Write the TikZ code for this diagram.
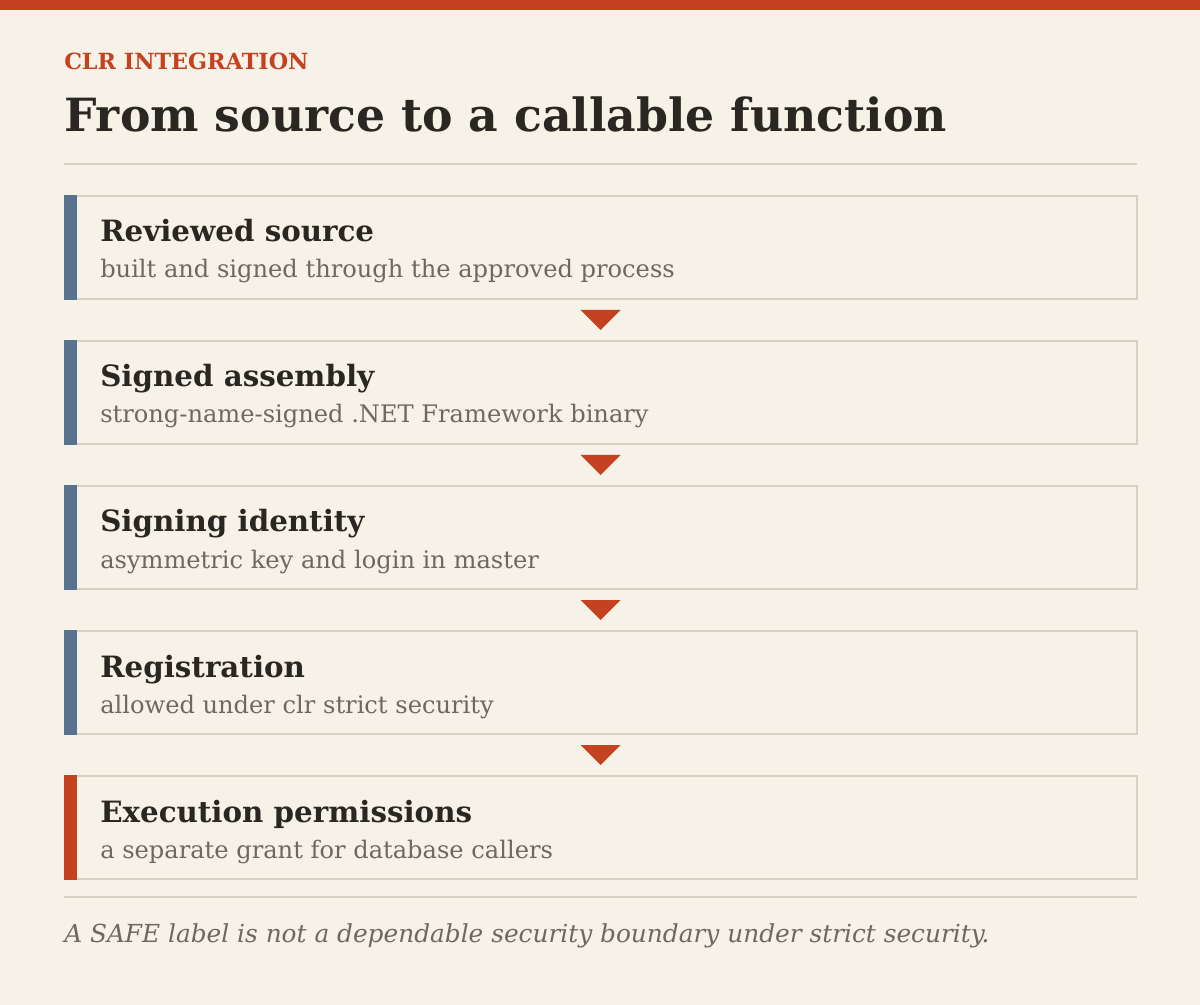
\documentclass[tikz,border=0pt]{standalone}
\usepackage{fontspec}
\setmainfont{DejaVu Serif}
\usetikzlibrary{positioning,calc}
\definecolor{paper}{HTML}{F7F2E8}
\definecolor{rust}{HTML}{C4421F}
\definecolor{slate}{HTML}{587390}
\definecolor{rulegrey}{HTML}{D7D0C4}
\definecolor{ink}{HTML}{2A2621}
\definecolor{muted}{HTML}{6E685F}
\tikzset{
 stepbox/.style={draw=rulegrey,line width=1.5pt,minimum width=804pt,minimum height=77.25pt,inner sep=0pt},
 headtext/.style={anchor=base west,inner sep=0pt,text=ink,font=\fontsize{22}{26}\selectfont\bfseries},
 subtext/.style={anchor=base west,inner sep=0pt,text=muted,font=\fontsize{18.1}{21}\selectfont},
}
\begin{document}
\begin{tikzpicture}[x=0.75pt,y=-0.75pt]
 \fill[paper] (0,0) rectangle (1200,1005);
 \fill[rust] (0,0) rectangle (1200,10);
 \node[anchor=base west,inner sep=0pt,text=rust,font=\fontsize{16.7}{20}\selectfont\bfseries] (eyebrow) at (64,70) {CLR INTEGRATION};
 \node[anchor=base west,inner sep=0pt,text=ink,font=\fontsize{34.3}{40}\selectfont\bfseries] (title) at (64,132) {From source to a callable function};
 \draw[rulegrey,line width=1.5pt] (64,164) -- (1137,164);

 \foreach \head/\sub/\barcol [count=\i] in {
  Reviewed source/built and signed through the approved process/slate,
  Signed assembly/strong-name-signed .NET Framework binary/slate,
  Signing identity/asymmetric key and login in master/slate,
  Registration/allowed under clr strict security/slate,
  Execution permissions/a separate grant for database callers/rust} {
  \pgfmathsetmacro{\ytop}{195+145*(\i-1)}
  \node[stepbox] (step\i) at (600.5,\ytop+52.5) {};
  \fill[\barcol] (64,\ytop) rectangle (77,\ytop+105);
  \node[headtext] (head\i) at (100,\ytop+47) {\head};
  \node[subtext] (sub\i) at (100,\ytop+83) {\sub};
 }

 \foreach \i [evaluate=\i as \j using int(\i+1)] in {1,...,4} {
  \coordinate (mid\i) at ($(step\i.south)!0.5!(step\j.north)$);
  \fill[rust] ($(mid\i)+(-20,-10)$) -- ($(mid\i)+(20,-10)$) -- ($(mid\i)+(0,10)$) -- cycle;
 }

 \draw[rulegrey,line width=1.5pt] (64,897) -- (1137,897);
 \node[anchor=base west,inner sep=0pt,text=muted,font=\fontsize{18.6}{22}\selectfont\itshape] (note) at (64,942) {A SAFE label is not a dependable security boundary under strict security.};
\end{tikzpicture}
\end{document}
